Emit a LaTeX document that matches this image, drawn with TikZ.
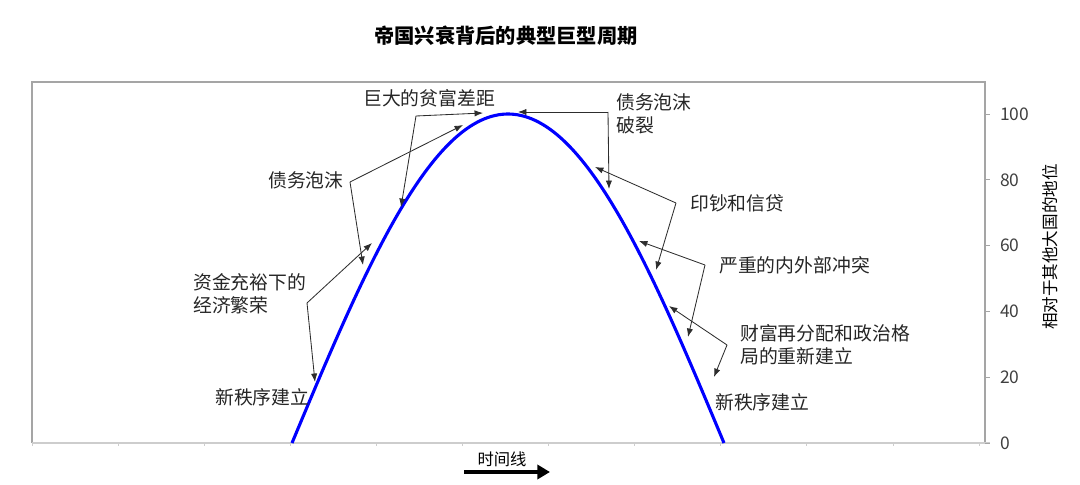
\documentclass[tikz,border=0pt]{standalone}
\usepackage{fontspec}
\setmainfont{Noto Sans CJK SC}
\usetikzlibrary{arrows.meta,positioning}
\definecolor{curveblue}{RGB}{0,0,255}
\definecolor{framegray}{RGB}{165,165,165}
\definecolor{axisgray}{RGB}{205,205,205}
\definecolor{notegray}{RGB}{45,45,45}

\begin{document}
\begin{tikzpicture}[
  x=0.025cm, y=-0.025cm,
  note/.style={
    font=\fontsize{13.4}{16.6}\selectfont,
    text=black!85,
    inner sep=0pt,
    align=left,
    anchor=west
  },
  ticklbl/.style={
    font=\fontsize{12.4}{14}\selectfont,
    text=black!75,
    inner sep=0pt,
    anchor=west
  },
  pointer/.style={
    draw=notegray,
    line width=0.6pt,
    -{Latex[length=6pt,width=4.5pt]}
  },
  curve/.style={
    draw=curveblue,
    line width=2.2pt
  }
]
\useasboundingbox (0,0) rectangle (1080,485);

% -------- Title --------
\node[font=\fontsize{14.4}{16}\selectfont\bfseries, inner sep=0pt] (title) at (506,36)
{帝国兴衰背后的典型巨型周期};

% -------- Frame and axes --------
\draw[framegray, line width=0.8pt] (32,443) -- (32,82) -- (985,82) -- (985,443);
\draw[axisgray, line width=1.4pt] (32,443) -- (990,443);
\foreach \i in {0,...,11}
  \draw[axisgray, line width=0.6pt] ({32+86.1*\i},443) -- ++(0,3);
\foreach \v in {0,20,...,100} {
  \draw[framegray, line width=0.6pt] (985,{443-3.29*\v}) -- (990,{443-3.29*\v});
  \node[ticklbl] (y\v) at (1000,{443-3.29*\v}) {\v};
}
\node[rotate=90, font=\fontsize{11.8}{14}\selectfont, inner sep=0pt] (ylab) at (1050,247)
{相对于其他大国的地位};

% -------- Cycle curve --------
\draw[curve] plot[domain=-90:90, samples=120, smooth] ({508+2.4*\x}, {443-329*cos(\x)});

% -------- Labels --------
\node[note] (gap)    at (363,98)  {巨大的贫富差距};
\node[note] (bubl)   at (268,180) {债务泡沫};
\node[note] (boom)   at (193,294) {资金充裕下的\\经济繁荣};
\node[note] (newl)   at (215,397) {新秩序建立};
\node[note] (burst)  at (616,114) {债务泡沫\\破裂};
\node[note] (print)  at (690,203) {印钞和信贷};
\node[note] (clash)  at (719,265) {严重的内外部冲突};
\node[note] (redist) at (740,345) {财富再分配和政治格\\局的重新建立};
\node[note] (newr)   at (715,402) {新秩序建立};

% -------- Pointers --------
\coordinate (jgap)  at (416,116);
\coordinate (jbub)  at (350,182);
\coordinate (jboom) at (307,303);
\coordinate (jbur)  at (608,112);
\coordinate (jpri)  at (676,203);
\coordinate (jcla)  at (705,265);
\coordinate (jred)  at (727,345);

\draw[pointer] (jgap) -- (483,113);
\draw[pointer] (jgap) -- (401,207);
\draw[pointer] (jbub) -- (463,125);
\draw[pointer] (jbub) -- (363,265);
\draw[pointer] (jboom) -- (372,243);
\draw[pointer] (jboom) -- (315,382);
\draw[pointer] (jbur) -- (518,112);
\draw[pointer] (jbur) -- (609,189);
\draw[pointer] (jpri) -- (595,167);
\draw[pointer] (jpri) -- (656,270);
\draw[pointer] (jcla) -- (639,241);
\draw[pointer] (jcla) -- (688,337);
\draw[pointer] (jred) -- (669,306);
\draw[pointer] (jred) -- (714,377);

% -------- Time line --------
\node[font=\fontsize{11.6}{14}\selectfont, inner sep=0pt] (tlab) at (502,459) {时间线};
\coordinate (t0) at (464,472);
\coordinate (t1) at (550,472);
\draw[line width=3.5pt, -{Triangle[length=9pt,width=10pt]}] (t0) -- (t1);

\end{tikzpicture}
\end{document}
